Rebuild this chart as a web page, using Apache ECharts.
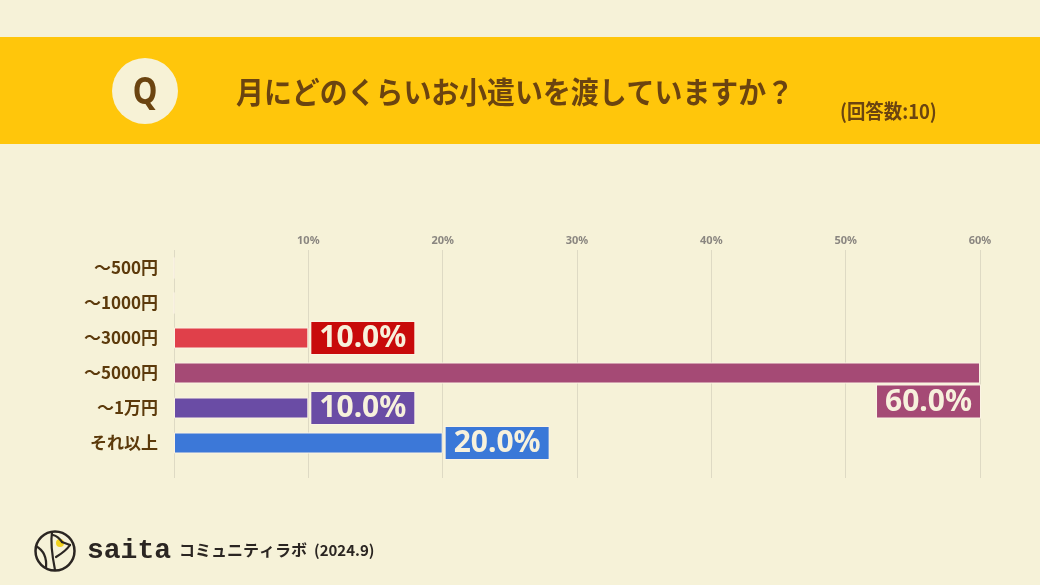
<!DOCTYPE html>
<html><head><meta charset="utf-8">
<script src="https://cdn.jsdelivr.net/npm/echarts@6/dist/echarts.min.js"></script>
<style>html,body{margin:0;padding:0;background:#F6F2D8;}#c{width:1040px;height:585px;}</style>
</head><body><div id="c"></div>
<script>
const categories = ['～500円', '～1000円', '～3000円', '～5000円', '～1万円', 'それ以上'];
const values = [0, 0, 10, 60, 10, 20];
const barColors = ['#E0404A', '#E0404A', '#E0404A', '#A54A75', '#6A4CA5', '#3C78D8'];
const labelColors = ['#CC0000', '#CC0000', '#C80A0A', '#A54A75', '#6A4CA5', '#3A78D8'];
const xTicks = [0, 10, 20, 30, 40, 50, 60];
const title = '月にどのくらいお小遣いを渡していますか？';
const subTitle = '(回答数:10)';
const footer = 'コミュニティラボ';
const footerDate = '(2024.9)';

const brown = '#6B4410';
const ink = '#2B2622';
const cjk = '"Noto Sans CJK JP", "Noto Sans", sans-serif';

const chart = echarts.init(document.getElementById('c'));
const maxV = Math.max(...values);
const seriesData = values.map((v, i) => {
  const item = { value: v, itemStyle: { color: barColors[i] } };
  if (v === 0) {
    item.label = { show: false };
  } else if (v === maxV) {
    item.label = {
      position: ['100%', '100%'], align: 'right', verticalAlign: 'top',
      offset: [0, 2], backgroundColor: labelColors[i]
    };
  } else {
    item.label = { position: 'right', distance: 3, backgroundColor: labelColors[i] };
  }
  return item;
});

function bez(x1, y1, cpx1, cpy1, cpx2, cpy2, x2, y2) {
  return { type: 'bezierCurve', shape: { x1, y1, cpx1, cpy1, cpx2, cpy2, x2, y2 }, style: { fill: null, stroke: ink, lineWidth: 2.2, lineCap: 'round' } };
}
function seg(x1, y1, x2, y2) {
  return { type: 'line', shape: { x1, y1, x2, y2 }, style: { stroke: ink, lineWidth: 2.2, lineCap: 'round' } };
}

chart.setOption({
  backgroundColor: '#F6F2D8',
  animation: false,
  grid: [
    { left: 174, right: 60, top: 250.5, height: 210 },
    { left: 174, right: 60, top: 250, bottom: 107 }
  ],
  xAxis: [
    { gridIndex: 0, type: 'value', min: 0, max: 60, interval: 10, show: false },
    {
      gridIndex: 1, type: 'value', position: 'top', min: xTicks[0], max: xTicks[xTicks.length - 1], interval: 10,
      axisLine: { show: false }, axisTick: { show: false },
      axisLabel: {
        margin: 4, color: '#8A8680', fontSize: 11, fontWeight: 'bold', fontFamily: '"Noto Sans", sans-serif',
        formatter: v => v === 0 ? '' : v + '%'
      },
      splitLine: { show: true, lineStyle: { color: '#DEDAC4', width: 1 } }
    }
  ],
  yAxis: [
    {
      gridIndex: 0, type: 'category', data: categories, inverse: true,
      axisLine: { show: false }, axisTick: { show: false },
      axisLabel: { margin: 16, color: '#5C3A0B', fontSize: 17, fontWeight: 'bold', fontFamily: cjk }
    },
    { gridIndex: 1, type: 'value', show: false }
  ],
  series: [{
    type: 'bar', xAxisIndex: 0, yAxisIndex: 0, data: seriesData, barWidth: 21,
    itemStyle: { borderColor: '#FBF3E4', borderWidth: 1 },
    label: {
      show: true, formatter: p => p.value.toFixed(1) + '%',
      color: '#F7F1DC', fontSize: 30, fontWeight: 'bold', fontFamily: '"Noto Sans", sans-serif',
      padding: [1, 8, 0, 8], lineHeight: 31,
      borderColor: '#FBF3E4', borderWidth: 1
    }
  }],
  graphic: [
    { type: 'rect', shape: { x: 0, y: 37, width: 1040, height: 107 }, style: { fill: '#FFC60B' }, z: -1 },
    { type: 'circle', shape: { cx: 145, cy: 91, r: 33 }, style: { fill: '#F7F2D6' } },
    { type: 'text', x: 145, y: 93, scaleX: 0.82, style: { text: 'Q', fill: brown, font: 'bold 38px "Noto Sans", sans-serif', align: 'center', verticalAlign: 'middle' } },
    { type: 'text', x: 236, y: 92, scaleX: 0.93, style: { text: title, fill: brown, font: 'bold 30px ' + cjk, verticalAlign: 'middle' } },
    { type: 'text', x: 840, y: 111, scaleX: 0.92, style: { text: subTitle, fill: brown, font: 'bold 20px ' + cjk, verticalAlign: 'middle' } },
    // logo
    { type: 'circle', shape: { cx: 55, cy: 551, r: 19.5 }, style: { fill: null, stroke: ink, lineWidth: 2.5 } },
    { type: 'circle', shape: { cx: 60, cy: 543, r: 4 }, style: { fill: '#F2D21E' } },
    bez(52, 532, 50, 545, 53, 560, 55, 570),
    bez(53, 535, 57, 536, 60, 539, 62, 542),
    seg(62, 542, 70, 545),
    bez(70, 545, 66, 551, 61, 554, 56, 557),
    bez(36, 546, 43, 550, 47, 558, 46, 568),
    { type: 'text', x: 87, y: 551, style: { text: 'saita', fill: ink, font: 'bold 28px "Liberation Mono", monospace', verticalAlign: 'middle' } },
    { type: 'text', x: 179, y: 550, style: { text: footer, fill: ink, font: 'bold 16px ' + cjk, verticalAlign: 'middle' } },
    { type: 'text', x: 314, y: 550, style: { text: footerDate, fill: ink, font: 'bold 15px ' + cjk, verticalAlign: 'middle' } }
  ]
});
</script></body></html>
